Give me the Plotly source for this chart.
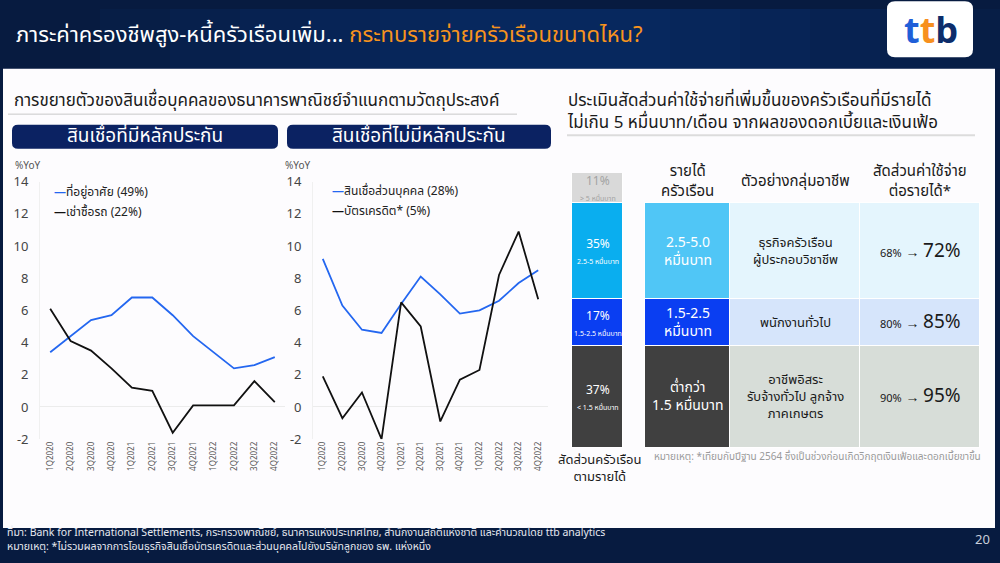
import plotly.graph_objects as go

# ---- data ----
quarters = ['1Q2020', '2Q2020', '3Q2020', '4Q2020', '1Q2021', '2Q2021',
            '3Q2021', '4Q2021', '1Q2022', '2Q2022', '3Q2022', '4Q2022']
housing = [3.4, 4.4, 5.4, 5.7, 6.8, 6.8, 5.7, 4.4, 3.4, 2.4, 2.6, 3.1]
auto_leasing = [6.1, 4.1, 3.5, 2.4, 1.2, 1.0, -1.6, 0.1, 0.1, 0.1, 1.6, 0.3]
personal_loan = [9.2, 6.3, 4.8, 4.6, 6.4, 8.1, 7.0, 5.8, 6.0, 6.6, 7.7, 8.5]
credit_card = [1.9, -0.7, 0.9, -2.0, 6.5, 5.0, -0.9, 1.7, 2.3, 8.2, 10.9, 6.7]

# household income groups, bottom to top
hh_share = [37, 17, 35, 11]
hh_group = ['< 1.5 หมื่นบาท', '1.5-2.5 หมื่นบาท', '2.5-5 หมื่นบาท', '> 5 หมื่นบาท']
income_cell = ['ต่ำกว่า<br>1.5 หมื่นบาท', '1.5-2.5<br>หมื่นบาท', '2.5-5.0<br>หมื่นบาท']
occupation = ['อาชีพอิสระ<br>รับจ้างทั่วไป ลูกจ้าง<br>ภาคเกษตร', 'พนักงานทั่วไป',
              'ธุรกิจครัวเรือน<br>ผู้ประกอบวิชาชีพ']
expense_before = [90, 80, 68]
expense_after = [95, 85, 72]

FONT = 'Noto Sans Thai, Noto Sans, sans-serif'
W, H = 1000, 563


def fx(x):
    return x / W


def fy(y):
    return 1 - y / H


def rrect(x0, y0, x1, y1, r, color):
    # rounded rectangle in pixel coords -> paper path
    a, b, c, d = fx(x0), fy(y0), fx(x1), fy(y1)
    rx, ry = r / W, r / H
    p = (f'M {a+rx},{b} L {c-rx},{b} Q {c},{b} {c},{b-ry} L {c},{d+ry} '
         f'Q {c},{d} {c-rx},{d} L {a+rx},{d} Q {a},{d} {a},{d+ry} '
         f'L {a},{b-ry} Q {a},{b} {a+rx},{b} Z')
    return dict(type='path', path=p, xref='paper', yref='paper',
                fillcolor=color, line_width=0, layer='below')


fig = go.Figure()

# ---- line charts ----
blue = '#2467f0'
black = '#111111'
fig.add_trace(go.Scatter(x=quarters, y=housing, name='ที่อยู่อาศัย (49%)', mode='lines',
                         line=dict(color=blue, width=1.8), xaxis='x', yaxis='y'))
fig.add_trace(go.Scatter(x=quarters, y=auto_leasing, name='เช่าซื้อรถ (22%)', mode='lines',
                         line=dict(color=black, width=1.8), xaxis='x', yaxis='y'))
fig.add_trace(go.Scatter(x=quarters, y=personal_loan, name='สินเชื่อส่วนบุคคล (28%)', mode='lines',
                         line=dict(color=blue, width=1.8), xaxis='x2', yaxis='y2'))
fig.add_trace(go.Scatter(x=quarters, y=credit_card, name='บัตรเครดิต* (5%)', mode='lines',
                         line=dict(color=black, width=1.8), xaxis='x2', yaxis='y2'))

# ---- household share bar + table body ----
bar_x, bar_w = 597.5, 51
col_x = [687.5, 795, 920]
col_w = [85, 130, 120]
bar_colors = ['#404040', '#0a3ef2', '#0aaeef', '#d9d9d9']
col1_colors = ['#404040', '#0a3ef2', '#50c6f6']
row_colors = ['#d7ddd8', '#d6e5fb', '#e4f5fd']

for i, share in enumerate(hh_share):
    if i < 3:
        xs = [bar_x] + col_x
        ws = [bar_w] + col_w
        cs = [bar_colors[i], col1_colors[i], row_colors[i], row_colors[i]]
    else:
        xs, ws, cs = [bar_x], [bar_w], [bar_colors[i]]
    fig.add_trace(go.Bar(x=xs, y=[share] * len(xs), width=ws,
                         marker=dict(color=cs, line=dict(color='white', width=1)),
                         xaxis='x3', yaxis='y3', showlegend=False, hoverinfo='skip'))

annotations = []
base = 0
for i, share in enumerate(hh_share):
    mid = base + share / 2
    top_txt = '#a3a3a3' if i == 3 else 'white'
    annotations.append(dict(x=bar_x, y=mid, xref='x3', yref='y3', showarrow=False,
                            text=f'<span style="font-size:12px">{share}%</span><br>'
                                 f'<span style="font-size:7px">{hh_group[i]}</span>',
                            font=dict(family=FONT, color=top_txt, size=12)))
    if i < 3:
        annotations.append(dict(x=col_x[0], y=mid, xref='x3', yref='y3', showarrow=False,
                                text=income_cell[i], font=dict(family=FONT, color='white', size=14)))
        annotations.append(dict(x=col_x[1], y=mid, xref='x3', yref='y3', showarrow=False,
                                text=occupation[i], font=dict(family=FONT, color='#1a1a1a', size=13)))
        annotations.append(dict(x=col_x[2], y=mid, xref='x3', yref='y3', showarrow=False,
                                text=f'<span style="font-size:11px">{expense_before[i]}%</span> <b>→</b> '
                                     f'<span style="font-size:19px">{expense_after[i]}%</span>',
                                font=dict(family=FONT, color='#1a1a1a', size=14)))
    base += share

# table header
hdr = ['รายได้<br>ครัวเรือน', 'ตัวอย่างกลุ่มอาชีพ', 'สัดส่วนค่าใช้จ่าย<br>ต่อรายได้*']
for cx, t in zip(col_x, hdr):
    annotations.append(dict(x=fx(cx), y=fy(179), xref='paper', yref='paper', showarrow=False,
                            xanchor='center', yanchor='middle', align='center',
                            text=t, font=dict(family=FONT, size=15, color='#1a1a1a')))


# ---- slide texts ----
def txt(x, y, t, size, color, xanchor='left', **kw):
    annotations.append(dict(x=fx(x), y=fy(y), xref='paper', yref='paper', showarrow=False,
                            xanchor=xanchor, yanchor='middle',
                            align=xanchor if xanchor != 'center' else 'center',
                            text=t, font=dict(family=FONT, size=size, color=color), **kw))


txt(14, 27, 'ภาระค่าครองชีพสูง-หนี้ครัวเรือนเพิ่ม... '
            '<span style="color:#f7941d">กระทบรายจ่ายครัวเรือนขนาดไหน?</span>', 22, 'white')
txt(931, 24, '<b><span style="color:#1f5fd8">t</span><span style="color:#f7901e">t</span>'
             '<span style="color:#0c2d6b">b</span></b>', 36, '#1f5fd8', xanchor='center')
txt(12, 95, 'การขยายตัวของสินเชื่อบุคคลของธนาคารพาณิชย์จำแนกตามวัตถุประสงค์', 17, '#1a1a1a')
txt(145, 132, 'สินเชื่อที่มีหลักประกัน', 19, 'white', xanchor='center')
txt(419, 132, 'สินเชื่อที่ไม่มีหลักประกัน', 19, 'white', xanchor='center')
txt(13, 163, '%YoY', 10, '#555555')
txt(283, 163, '%YoY', 10, '#555555')
txt(565, 107, 'ประเมินสัดส่วนค่าใช้จ่ายที่เพิ่มขึ้นของครัวเรือนที่มีรายได้<br>'
              'ไม่เกิน 5 หมื่นบาท/เดือน จากผลของดอกเบี้ยและเงินเฟ้อ', 17, '#1a1a1a')
txt(599, 476, 'สัดส่วนครัวเรือน<br>ตามรายได้', 13, '#1a1a1a', xanchor='center')
txt(652, 465, 'หมายเหตุ: *เทียบกับปีฐาน 2564 ซึ่งเป็นช่วงก่อนเกิดวิกฤตเงินเฟ้อและดอกเบี้ยขาขึ้น', 10, '#9a9a9a')
txt(5, 551, 'ที่มา: Bank for International Settlements, กระทรวงพาณิชย์, ธนาคารแห่งประเทศไทย, '
            'สำนักงานสถิติแห่งชาติ และคำนวณโดย ttb analytics<br>'
            'หมายเหตุ: *ไม่รวมผลจากการโอนธุรกิจสินเชื่อบัตรเครดิตและส่วนบุคคลไปยังบริษัทลูกของ ธพ. แห่งหนึ่ง',
    10.5, '#e6e9f0')
txt(992, 551, '20', 13, '#c9cfdb', xanchor='right')

# line-chart keys, drawn as text next to a coloured dash
legend_rows = [(52, 190, blue, fig.data[0].name), (52, 210, black, fig.data[1].name),
               (330, 189, blue, fig.data[2].name), (330, 209, black, fig.data[3].name)]
for lx, ly, lc, name in legend_rows:
    txt(lx, ly, f'<span style="color:{lc}"><b>—</b></span>{name}', 12, '#222222')

# soft lighter glow in the header band
shapes = []
for half in [460, 390, 320, 250, 180, 110]:
    shapes.append(dict(type='rect', xref='paper', yref='paper', x0=fx(560 - half), x1=fx(560 + half),
                       y0=fy(62), y1=1, fillcolor='#1546a0', opacity=0.07, line_width=0, layer='below'))
shapes += [
    dict(type='rect', xref='paper', yref='paper', x0=fx(3), x1=fx(995), y0=fy(538), y1=fy(62),
         fillcolor='#fdfcfe', line_width=0, layer='below'),
    rrect(887, -8, 973, 50, 8, 'white'),
    rrect(12, 120, 278, 145, 6, '#0b2262'),
    rrect(287, 120, 551, 145, 6, '#0b2262'),
    dict(type='line', xref='paper', yref='paper', x0=fx(8), x1=fx(517), y0=fy(109), y1=fy(109),
         line=dict(color='#c8c8c8', width=1)),
    dict(type='line', xref='paper', yref='paper', x0=fx(567), x1=fx(975), y0=fy(131), y1=fy(131),
         line=dict(color='#dcdcdc', width=2)),
]

yax = dict(range=[-2, 14], dtick=2, showgrid=False, zeroline=True, zerolinecolor='#ececec', zerolinewidth=1,
           showline=True, linecolor='#f0f0f0', linewidth=1, ticks='', ticklabelstandoff=8,
           tickfont=dict(family=FONT, size=13, color='#444444'), domain=[fy(446), fy(179)])
xax = dict(type='category', range=[-0.5, 11.5], showgrid=False, showline=False, ticks='', tickangle=-90,
           tickfont=dict(family=FONT, size=8, color='#555555'))

fig.update_layout(
    width=W, height=H, margin=dict(l=0, r=0, t=0, b=0),
    paper_bgcolor='#071b40', plot_bgcolor='rgba(0,0,0,0)',
    barmode='stack', bargap=0, showlegend=False,
    xaxis=dict(xax, domain=[fx(40), fx(285)], anchor='y'),
    yaxis=dict(yax, anchor='x'),
    xaxis2=dict(xax, domain=[fx(313), fx(548)], anchor='y2'),
    yaxis2=dict(yax, anchor='x2'),
    xaxis3=dict(range=[560, 990], domain=[fx(560), fx(990)], anchor='y3', visible=False),
    yaxis3=dict(range=[0, 100], domain=[fy(455), fy(170)], anchor='x3', visible=False),
    shapes=shapes, annotations=annotations,
)

fig.write_html('out.html', config={'displayModeBar': False},
               post_script="document.body.style.margin='0';"
                           "document.documentElement.style.overflow='hidden';"
                           "document.body.style.overflow='hidden';")
